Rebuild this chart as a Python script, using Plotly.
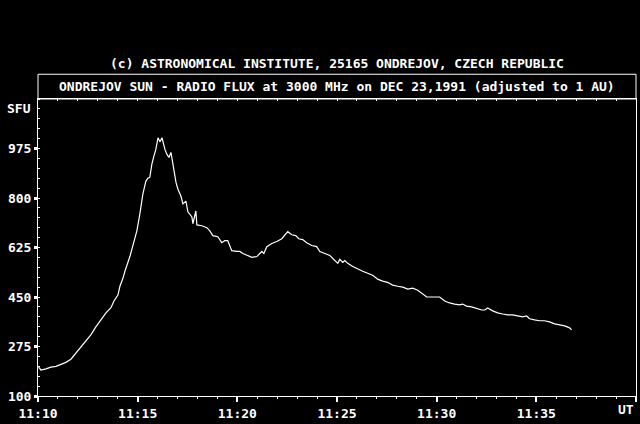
import plotly.graph_objects as go

# minutes after 11:10 UT
minutes = [0.03, 0.15, 0.40, 0.65, 0.90, 1.15, 1.40, 1.65, 1.90, 2.16, 2.41, 2.66, 2.91, 3.16,
           3.41, 3.66, 3.81, 4.01, 4.11, 4.26, 4.36, 4.61, 4.76, 4.96, 5.11, 5.26, 5.41, 5.51,
           5.61, 5.71, 5.81, 5.91, 6.02, 6.12, 6.22, 6.27, 6.37, 6.47, 6.57, 6.67, 6.77, 6.92,
           7.02, 7.17, 7.27, 7.42, 7.52, 7.72, 7.77, 7.92, 7.97, 8.22, 8.47, 8.62, 8.77, 9.02,
           9.22, 9.37, 9.52, 9.72, 9.97, 10.13, 10.28, 10.53, 10.73, 10.98, 11.23, 11.33, 11.48,
           11.73, 11.98, 12.23, 12.38, 12.53, 12.73, 12.93, 13.08, 13.28, 13.48, 13.73, 13.98,
           14.14, 14.39, 14.64, 14.79, 15.04, 15.14, 15.29, 15.39, 15.54, 15.79, 16.04, 16.29,
           16.54, 16.79, 17.04, 17.29, 17.54, 17.79, 18.05, 18.30, 18.55, 18.80, 19.05, 19.30,
           19.50, 19.65, 19.90, 20.15, 20.40, 20.65, 20.90, 21.15, 21.30, 21.50, 21.75, 22.01,
           22.26, 22.41, 22.56, 22.81, 23.06, 23.31, 23.56, 23.81, 24.06, 24.31, 24.51, 24.66,
           24.91, 25.16, 25.41, 25.66, 25.92, 26.17, 26.42, 26.67, 26.77]

# radio flux, SFU
flux = [202, 192, 196, 202, 205, 212, 219, 230, 251, 272, 296, 317, 345, 370,
        394, 412, 436, 457, 488, 516, 541, 593, 632, 684, 744, 814, 859, 870,
        873, 919, 947, 971, 1013, 999, 1013, 996, 971, 954, 943, 961, 919, 856,
        831, 807, 779, 789, 751, 733, 709, 754, 705, 702, 695, 684, 667, 663,
        642, 649, 649, 614, 611, 611, 604, 597, 590, 593, 611, 604, 628,
        639, 646, 656, 667, 681, 670, 667, 656, 653, 642, 632, 628,
        611, 604, 597, 586, 569, 583, 572, 579, 569, 558, 548, 541,
        534, 527, 513, 506, 502, 492, 488, 485, 478, 481, 474, 460,
        450, 450, 450, 450, 436, 429, 425, 422, 425, 418, 415, 408,
        404, 404, 411, 401, 394, 390, 387, 387, 383, 380, 383, 373,
        369, 366, 366, 362, 355, 352, 348, 341, 334]

x_tickvals = [0, 5, 10, 15, 20, 25, 30]
x_ticktext = ["11:10", "11:15", "11:20", "11:25", "11:30", "11:35", ""]
y_tickvals = [100, 275, 450, 625, 800, 975]

font = dict(family="DejaVu Sans Mono", size=13, color="white", weight="bold")

fig = go.Figure()
fig.add_trace(go.Scatter(x=minutes, y=flux, mode="lines",
                         line=dict(color="white", width=1.2), hoverinfo="skip"))
# dummy trace so the top tick axis is drawn
fig.add_trace(go.Scatter(x=[0], y=[100], xaxis="x2", mode="markers",
                         marker=dict(opacity=0), hoverinfo="skip"))

fig.update_layout(
    width=640, height=424,
    paper_bgcolor="black", plot_bgcolor="black",
    margin=dict(l=38, r=3, t=99, b=25),
    showlegend=False,
    font=font,
    xaxis=dict(range=[0, 30], tickvals=x_tickvals, ticktext=x_ticktext,
               showgrid=False, zeroline=False, showline=True, linecolor="white",
               linewidth=1, mirror=True, ticks="outside", ticklen=5, tickwidth=2,
               tickcolor="white", tickfont=font,
               minor=dict(dtick=1, tick0=0, ticks="outside", ticklen=2,
                          tickwidth=1, tickcolor="white", showgrid=False)),
    xaxis2=dict(range=[0, 30], overlaying="x", side="top", showticklabels=False,
                showgrid=False, zeroline=False, showline=False,
                ticks="inside", tickvals=list(range(0, 31)), ticklen=2,
                tickwidth=1, tickcolor="white"),
    yaxis=dict(range=[100, 1150], tickvals=y_tickvals, showgrid=False,
               zeroline=False, showline=True, linecolor="white", linewidth=1,
               mirror=True, ticks="outside", ticklen=3, tickwidth=3,
               tickcolor="white", tickfont=font,
               minor=dict(dtick=35, tick0=100, ticks="inside", ticklen=2,
                          tickwidth=1, tickcolor="white", showgrid=False)),
)

fig.add_shape(type="rect", xref="paper", yref="paper", x0=0, x1=1, y0=1, y1=1.0833,
              line=dict(color="white", width=1))
fig.add_annotation(text="ONDREJOV SUN - RADIO FLUX at 3000 MHz on DEC 23,1991 (adjusted to 1 AU)",
                   xref="paper", yref="paper", x=0.5, y=1.041, showarrow=False,
                   xanchor="center", yanchor="middle", font=font)
fig.add_annotation(text="(c) ASTRONOMICAL INSTITUTE, 25165 ONDREJOV, CZECH REPUBLIC",
                   xref="paper", yref="paper", x=0.5, y=1.12, showarrow=False,
                   xanchor="center", yanchor="middle", font=font)
fig.add_annotation(text="SFU", xref="paper", yref="y", x=-0.008, y=1118,
                   showarrow=False, xanchor="right", yanchor="middle", font=font)
fig.add_annotation(text="UT", xref="paper", yref="paper", x=1.0, y=0,
                   yshift=-13, showarrow=False, xanchor="right", yanchor="middle",
                   font=font)

fig.write_html("out.html", config={"displayModeBar": False},
               post_script="document.body.style.margin='0';document.body.style.background='black';")
